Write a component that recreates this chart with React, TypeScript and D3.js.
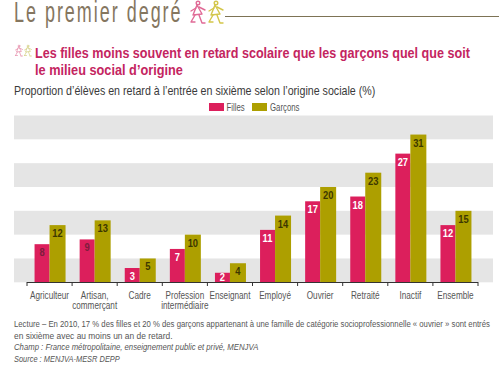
import React from "react";
import * as d3 from "d3";

const categories = [["Agriculteur"], ["Artisan,", "commerçant"], ["Cadre"], ["Profession", "intermédiaire"], ["Enseignant"], ["Employé"], ["Ouvrier"], ["Retraité"], ["Inactif"], ["Ensemble"]];
const filles = [8, 9, 3, 7, 2, 11, 17, 18, 27, 12];
const garcons = [12, 13, 5, 10, 4, 14, 20, 23, 31, 15];
const bandStarts = [0, 10, 20, 30];
const notes = [
  "Lecture – En 2010, 17 % des filles et 20 % des garçons appartenant à une famille de catégorie socioprofessionnelle « ouvrier » sont entrés",
  "en sixième avec au moins un an de retard.",
];
const notesItalic = ["Champ : France métropolitaine, enseignement public et privé, MENJVA", "Source : MENJVA-MESR DEPP"];

const W = 499, H = 375;
const RED = "#dc1f5c", OLIVE = "#ad9f00";
const FONT = "'Liberation Sans', Arial, sans-serif";
const x = d3.scaleBand<number>().domain(d3.range(10)).range([27, 478]);
const y = d3.scaleLinear().domain([0, 35]).range([282.3, 115.5]);
const BAR = 15;

function T({ x: tx, y: ty, sx = 0.78, children, ...rest }: any) {
  return (
    <text transform={`translate(${tx},${ty}) scale(${sx},1)`} fontFamily={FONT} {...rest}>
      {children}
    </text>
  );
}

function Figure({ x: fx, y: fy, s, c }: { x: number; y: number; s: number; c: string }) {
  return (
    <g transform={`translate(${fx},${fy}) scale(${s})`} fill="none" stroke={c} strokeWidth={1.4} strokeLinecap="round" strokeLinejoin="round">
      <circle cx={8} cy={2} r={1.8} />
      <path d="M7 4 L3 14 L12 13 Z" />
      <path d="M5 14 L1 21 M5 21 L1 21 M9 14 L12 22 M15 22 L12 22 M6 7 L1 10 M9 6 L15 9" />
    </g>
  );
}

export default function App() {
  return (
    <svg width={W} height={H} style={{ position: "absolute", left: 0, top: 0, background: "#fff" }}>
      {/* header */}
      <T x={14} y={21.5} sx={0.62} fontSize={29} fill="#85765f" letterSpacing={3.2}>Le premier degré</T>
      <Figure x={190} y={1} s={1} c="#e06a96" />
      <Figure x={208} y={1} s={1} c="#d3c64a" />
      <line x1={225} x2={499} y1={16.5} y2={16.5} stroke="#7d7355" strokeWidth={1} />

      {/* title */}
      <Figure x={15} y={45} s={0.5} c="#e58aa8" />
      <Figure x={24} y={45} s={0.5} c="#d3cf80" />
      <g fontWeight={700} fontSize={14} fill="#c4255f">
        <T x={35} y={58} sx={0.9}>Les filles moins souvent en retard scolaire que les garçons quel que soit</T>
        <T x={35} y={75} sx={0.91}>le milieu social d’origine</T>
      </g>
      <T x={14} y={95} sx={0.853} fontSize={12.5} fill="#3a3a3a">Proportion d’élèves en retard à l’entrée en sixième selon l’origine sociale (%)</T>

      {/* legend */}
      <rect x={209} y={103} width={15} height={8} fill={RED} />
      <T x={226.5} y={111} fontSize={10} fill="#555">Filles</T>
      <rect x={252} y={103} width={15} height={8} fill={OLIVE} />
      <T x={270} y={111} fontSize={10} fill="#555">Garçons</T>

      {/* bands */}
      {bandStarts.map((b) => (
        <rect key={b} x={14} width={479} y={y(b + 5)} height={y(b) - y(b + 5)} fill="#e5e5e5" />
      ))}

      {/* bars */}
      {categories.map((c, i) => {
        const cx = x(i)! + x.bandwidth() / 2;
        return (
          <g key={i} textAnchor="middle">
            <rect x={cx - BAR} width={BAR} y={y(filles[i])} height={y(0) - y(filles[i])} fill={RED} />
            <rect x={cx} width={BAR + 1} y={y(garcons[i])} height={y(0) - y(garcons[i])} fill={OLIVE} />
            <g fontWeight={700} fontSize={11}>
              <T x={cx - BAR / 2} y={Math.min(y(filles[i]) + 12, 281)} sx={0.85} fill={filles[i] === 8 || filles[i] === 9 ? "#7d1d3d" : "#fff"}>{filles[i]}</T>
              <T x={cx + BAR / 2 + 0.5} y={y(garcons[i]) + 12} sx={0.85} fill="#3d3800">{garcons[i]}</T>
            </g>
            <g fontSize={10.5} fill="#555">
              {c.map((l, k) => (
                <T key={k} x={cx} y={299 + k * 9.5}>{l}</T>
              ))}
            </g>
          </g>
        );
      })}

      {/* axis */}
      <line x1={27} x2={478} y1={282.5} y2={282.5} stroke="#333" strokeWidth={1} />
      {[...x.domain().map((d) => x(d)!), 478].map((t) => (
        <line key={t} x1={t} x2={t} y1={282} y2={286} stroke="#333" strokeWidth={1} />
      ))}

      {/* notes */}
      <g fontSize={9.8} fill="#555">
        <T x={14} y={327} sx={0.79}>{notes[0]}</T>
        <T x={14} y={338.5} sx={0.86}>{notes[1]}</T>
        <g fontStyle="italic">
          <T x={14} y={350} sx={0.79}>{notesItalic[0]}</T>
          <T x={14} y={361.5} sx={0.76}>{notesItalic[1]}</T>
        </g>
      </g>
    </svg>
  );
}
